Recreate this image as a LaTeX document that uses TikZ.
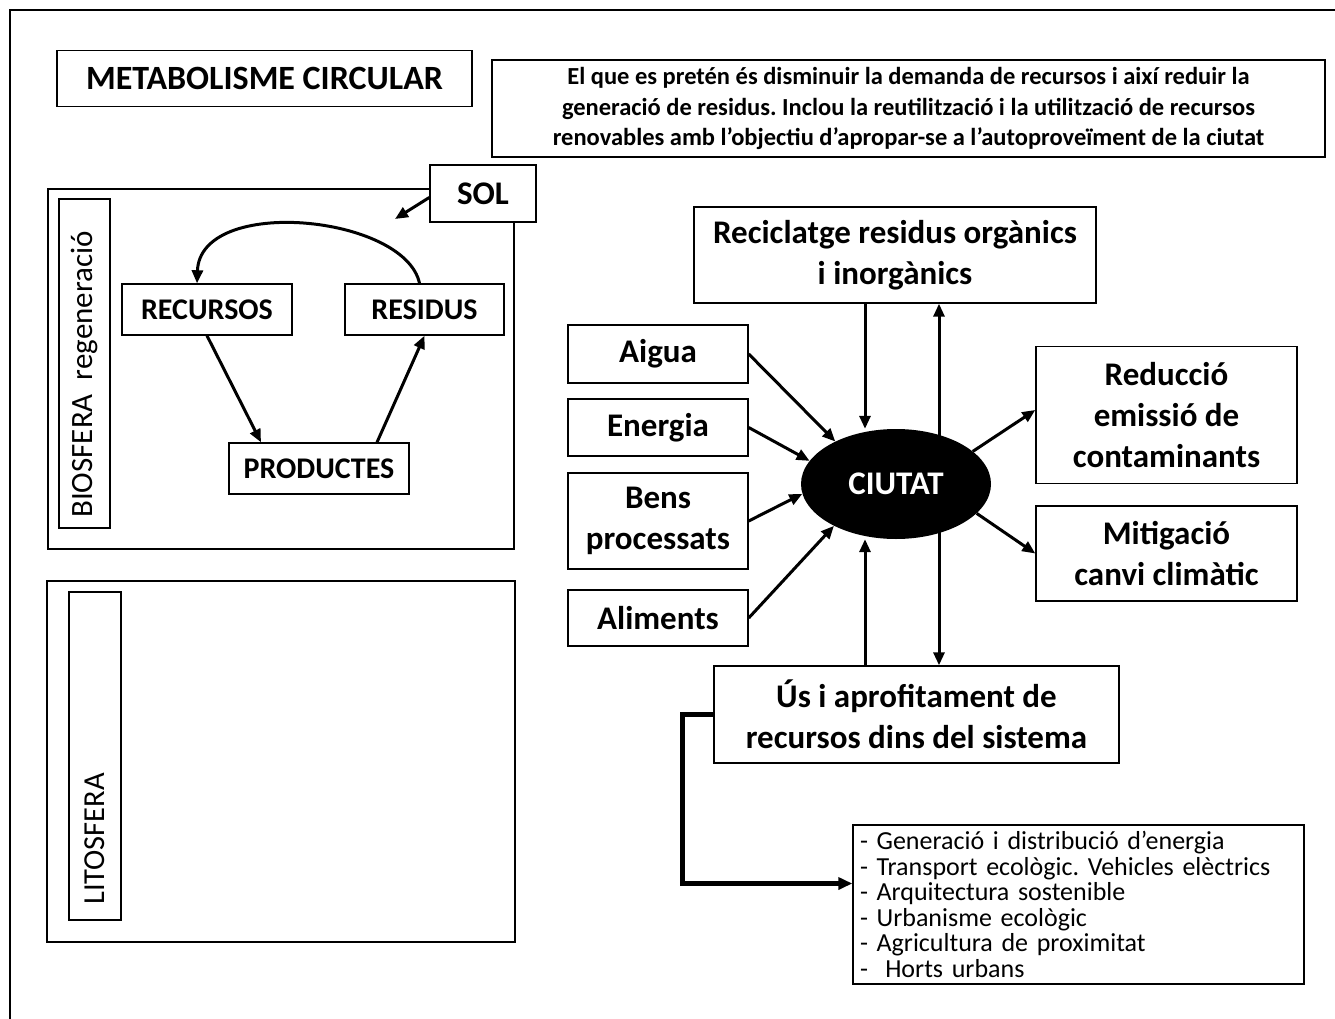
\documentclass[tikz,border=0pt]{standalone}
\usepackage{fontspec}
\setmainfont{Carlito}
\frenchspacing
\usetikzlibrary{arrows.meta,calc,backgrounds,shapes.geometric}

\begin{document}
\begin{tikzpicture}[x=1pt,y=-1pt,
    b/.style={draw,line width=1.4pt,inner sep=0pt,align=center,fill=white},
    big/.style={font=\fontsize{33}{41}\selectfont\bfseries},
    mid/.style={font=\fontsize{30}{36}\selectfont\bfseries},
    lbl/.style={draw,line width=1.4pt,inner sep=0pt,rotate=90,font=\fontsize{31}{36}\selectfont},
    a/.style={-{Triangle[length=13pt,width=11pt]},line width=3pt},
    e/.style={-{Triangle[length=14pt,width=12pt]},line width=4.5pt}]
    \useasboundingbox (0,0) rectangle (1335,1019);
    \draw[line width=1.8pt] (10,10) rectangle (1345,1030);
    % heading
    \node[b,font=\fontsize{34}{40}\selectfont\bfseries,minimum width=415,minimum height=56] (title) at (264.5,78.5) {METABOLISME CIRCULAR};
    \node[b,font=\fontsize{24.5}{30.5}\selectfont\bfseries,minimum width=833,minimum height=97] (goal) at (908.5,108.5)
      {El que es pretén és disminuir la demanda de recursos i així reduir la\\
       generació de residus. Inclou la reutilització i la utilització de recursos\\
       renovables amb l’objectiu d’apropar-se a l’autoproveïment de la ciutat};
    % biosfera
    \node[b,minimum width=466,minimum height=360] (bio) at (281,369) {};
    \node[lbl,minimum width=329,minimum height=51] (biolbl) at (84.5,363.5) {BIOSFERA\ \ regeneració\kern22pt};
    \node[b,mid,minimum width=170,minimum height=51] (rec) at (207,309.5) {RECURSOS};
    \node[b,mid,minimum width=159,minimum height=51] (res) at (424.5,309.5) {RESIDUS};
    \node[b,mid,minimum width=180,minimum height=51] (prod) at (319,468.5) {PRODUCTES};
    \node[b,font=\fontsize{33}{38}\selectfont\bfseries,minimum width=106,minimum height=57] (sol) at (483,193.5) {SOL};
    \coordinate (solpt) at (395,219);
    % litosfera
    \node[b,minimum width=468,minimum height=361] (lito) at (281,761.5) {};
    \node[b,minimum width=52,minimum height=328] (litobox) at (95,756) {};
    \node[rotate=90,anchor=west,inner sep=0pt,font=\fontsize{30.5}{36}\selectfont] (litotxt) at (95,905) {LITOSFERA};
    % ciutat
    \node[b,big,minimum width=402,minimum height=96] (recic) at (895,255) {Reciclatge residus orgànics\\i inorgànics};
    \node[b,big,minimum width=180,minimum height=58] (aigua) at (658,354) {Aigua};
    \node[b,big,minimum width=180,minimum height=57] (energ) at (658,427.5) {Energia};
    \node[b,big,minimum width=180,minimum height=96] (bens) at (658,521) {Bens\\processats};
    \node[b,big,minimum width=180,minimum height=56] (alim) at (658,618) {Aliments};
    \node[ellipse,fill=black,text=white,big,inner sep=0pt,minimum width=190,minimum height=110] (ciutat) at (896,484) {CIUTAT};
    \node[b,big,minimum width=261,minimum height=137] (reduc) at (1166.5,415) {Reducció\\emissió de\\contaminants};
    \node[b,big,minimum width=261,minimum height=95] (mitig) at (1166.5,553.5) {Mitigació\\canvi climàtic};
    \node[b,big,minimum width=405,minimum height=97] (us) at (916.5,714.5) {Ús i aprofitament de\\recursos dins del sistema};
    \node[b,font=\fontsize{26}{25.5}\selectfont,text width=437,inner xsep=7pt,align=left,minimum height=159] (list) at (1078.5,904.5)
      {- Generació i distribució d’energia\\
       - Transport ecològic. Vehicles elèctrics\\
       - Arquitectura sostenible\\
       - Urbanisme ecològic\\
       - Agricultura de proximitat\\
       -\ \ Horts urbans};
    \coordinate (dn) at (865,0);
    \coordinate (upx) at (939,0);
    % connectors
    \draw[a] (res.north) ++(-5,0) .. controls (405,215) and (200,195) .. ($(rec.north)+(-10,0)$);
    \draw[a] (rec.south) -- ($(prod.north)+(-58,0)$);
    \draw[a] ($(prod.north)+(58,0)$) -- (res.south);
    \draw[a] ($(sol.west)+(0,4)$) -- (solpt);
    \draw[a] (aigua.east) -- (ciutat.145);
    \draw[a] (energ.east) -- (ciutat.165);
    \draw[a] (bens.east) -- (ciutat.186);
    \draw[a] (alim.east) -- (ciutat.214);
    \draw[a] (ciutat.23) -- ($(reduc.west)+(0,-5)$);
    \draw[a] (ciutat.-20) -- (mitig.west);
    \draw[a] (recic.south -| dn) -- (ciutat.north -| dn);
    \draw[a] (us.north -| dn) -- (ciutat.south -| dn);
    \begin{scope}[on background layer]
      \draw[a,{Triangle[length=13pt,width=11pt]}-{Triangle[length=13pt,width=11pt]}] (recic.south -| upx) -- (us.north -| upx);
    \end{scope}
    \draw[e] (us.west) -- ++(-31,0) |- ($(list.west)+(0,-21)$);
\end{tikzpicture}
\end{document}
